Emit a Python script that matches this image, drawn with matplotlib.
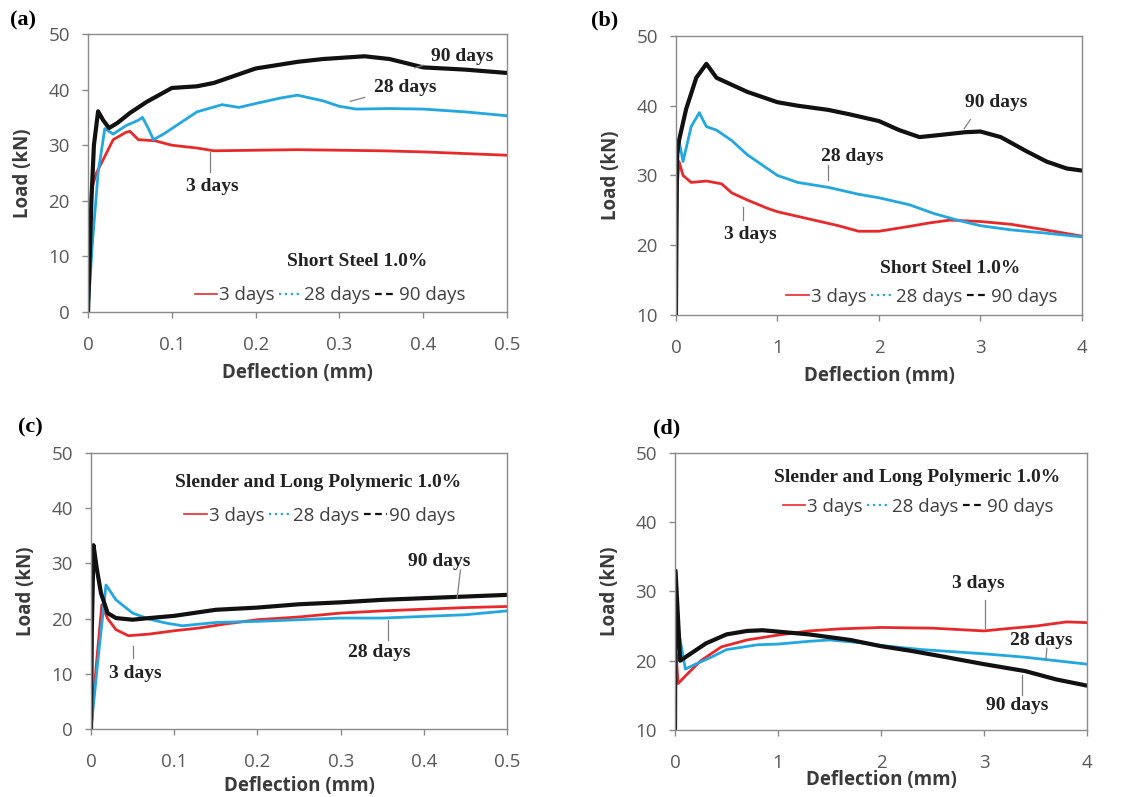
import matplotlib.pyplot as plt
from matplotlib.lines import Line2D

plt.rcParams['font.family'] = ['Open Sans', 'DejaVu Sans']

RED = '#e8292c'
BLUE = '#22a7e0'
BLACK = '#111111'
FRAME = '#8a8a8a'
TICK_GRAY = '#595959'
SERIF = 'Liberation Serif'

series_labels = ['3 days', '28 days', '90 days']

# (a) Short Steel, small deflection range
a3_x = [0, 0.002, 0.004, 0.01, 0.02, 0.03, 0.045, 0.05, 0.06, 0.08, 0.1, 0.13, 0.15,
        0.2, 0.25, 0.3, 0.35, 0.4, 0.45, 0.5]
a3_y = [0, 15, 22, 25, 28, 31, 32.3, 32.5, 31, 30.8, 30, 29.5, 29, 29.1, 29.2, 29.1,
        29, 28.8, 28.5, 28.2]
a28_x = [0, 0.005, 0.012, 0.02, 0.03, 0.045, 0.06, 0.065, 0.072, 0.078, 0.09, 0.1,
         0.13, 0.16, 0.18, 0.2, 0.23, 0.25, 0.28, 0.3, 0.32, 0.36, 0.4, 0.45, 0.5]
a28_y = [0, 12, 25, 33, 32, 33.5, 34.5, 35, 33, 31, 32, 33, 36, 37.3, 36.8, 37.5,
         38.5, 39, 38, 37, 36.5, 36.6, 36.5, 36, 35.3]
a90_x = [0, 0.002, 0.004, 0.007, 0.012, 0.018, 0.025, 0.035, 0.05, 0.07, 0.1, 0.13,
         0.15, 0.2, 0.25, 0.28, 0.33, 0.36, 0.4, 0.45, 0.5]
a90_y = [0, 10, 20, 30, 36.1, 34.5, 33.1, 34, 35.8, 37.8, 40.3, 40.6, 41.2, 43.8,
         45, 45.5, 46, 45.5, 44, 43.6, 43]

# (b) Short Steel, full deflection range
b3_x = [0, 0.01, 0.03, 0.07, 0.15, 0.3, 0.45, 0.55, 0.7, 0.9, 1.0, 1.3, 1.6, 1.8,
        2.0, 2.3, 2.5, 2.7, 3.0, 3.3, 3.6, 4.0]
b3_y = [10, 28, 32, 30, 29, 29.2, 28.8, 27.5, 26.5, 25.3, 24.8, 23.8, 22.8, 22,
        22, 22.7, 23.2, 23.6, 23.4, 23, 22.3, 21.3]
b28_x = [0, 0.01, 0.03, 0.07, 0.15, 0.23, 0.3, 0.4, 0.55, 0.7, 0.85, 1.0, 1.2, 1.5,
         1.8, 2.0, 2.3, 2.55, 2.8, 3.0, 3.3, 3.6, 4.0]
b28_y = [10, 30, 35, 32, 37, 39, 37, 36.5, 35, 33, 31.5, 30, 29, 28.3, 27.3, 26.8,
         25.8, 24.5, 23.5, 22.8, 22.2, 21.8, 21.2]
b90_x = [0, 0.01, 0.03, 0.1, 0.2, 0.3, 0.4, 0.55, 0.7, 0.9, 1.0, 1.2, 1.5, 1.7, 2.0,
         2.2, 2.4, 2.6, 2.85, 3.0, 3.2, 3.45, 3.65, 3.85, 4.0]
b90_y = [10, 33, 35, 39.5, 44, 46, 44, 43, 42, 41, 40.5, 40, 39.4, 38.8, 37.8, 36.5,
         35.5, 35.8, 36.2, 36.3, 35.5, 33.5, 32, 31, 30.7]

# (c) Slender and Long Polymeric, small deflection range
c3_x = [0, 0.006, 0.013, 0.02, 0.03, 0.045, 0.07, 0.1, 0.13, 0.16, 0.2, 0.25, 0.3,
        0.35, 0.4, 0.45, 0.5]
c3_y = [0, 11, 22.5, 20, 18, 16.9, 17.2, 17.8, 18.3, 19, 19.8, 20.3, 21, 21.4, 21.7,
        22, 22.2]
c28_x = [0, 0.008, 0.018, 0.03, 0.05, 0.07, 0.09, 0.11, 0.15, 0.2, 0.25, 0.3, 0.35,
         0.4, 0.45, 0.5]
c28_y = [0, 12, 26.1, 23.4, 21, 19.9, 19.2, 18.7, 19.3, 19.5, 19.8, 20.1, 20.1, 20.4,
         20.7, 21.4]
c90_x = [0, 0.001, 0.003, 0.007, 0.012, 0.02, 0.03, 0.05, 0.07, 0.1, 0.15, 0.2, 0.25,
         0.3, 0.35, 0.4, 0.45, 0.5]
c90_y = [0, 18, 33.3, 29, 24.6, 21, 20.1, 19.8, 20.1, 20.5, 21.6, 22, 22.6, 22.95,
         23.4, 23.7, 24, 24.3]

# (d) Slender and Long Polymeric, full deflection range
d3_x = [0, 0.01, 0.03, 0.1, 0.25, 0.45, 0.7, 1.0, 1.3, 1.6, 2.0, 2.5, 3.0, 3.2, 3.5,
        3.8, 4.0]
d3_y = [10, 21, 16.7, 17.8, 20, 22, 23, 23.7, 24.3, 24.6, 24.8, 24.7, 24.3, 24.6,
        25, 25.6, 25.5]
d28_x = [0, 0.01, 0.1, 0.2, 0.35, 0.5, 0.8, 1.0, 1.3, 1.5, 1.8, 2.0, 2.4, 3.0, 3.4,
         3.7, 4.0]
d28_y = [10, 26.4, 18.8, 19.5, 20.5, 21.6, 22.3, 22.4, 22.8, 23, 22.6, 22.2, 21.6,
         21, 20.5, 20, 19.5]
d90_x = [0, 0.005, 0.05, 0.15, 0.3, 0.5, 0.7, 0.85, 1.0, 1.3, 1.5, 1.7, 2.0, 2.3,
         2.6, 3.0, 3.4, 3.7, 4.0]
d90_y = [10, 33, 20, 21, 22.5, 23.8, 24.3, 24.4, 24.2, 23.8, 23.4, 23, 22.1, 21.4,
         20.6, 19.5, 18.5, 17.3, 16.4]

small_ticks = [0, 0.1, 0.2, 0.3, 0.4, 0.5]
small_ticklabels = ['0', '0.1', '0.2', '0.3', '0.4', '0.5']
large_ticks = [0, 1, 2, 3, 4]
large_ticklabels = ['0', '1', '2', '3', '4']

panels = [
    dict(pos=[0.0771, 0.6085, 0.3669, 0.3488], letter='(a)', letter_xy=(23, 20),
         series=[(a3_x, a3_y), (a28_x, a28_y), (a90_x, a90_y)],
         xlim=(0, 0.5), ylim=(0, 50), xticks=small_ticks, xticklabels=small_ticklabels,
         title='Short Steel 1.0%', title_xy=(0.321, 9.0), leg_xy=(0.578, 0.061),
         xlabelpad=7,
         notes=[('90 days', (0.447, 45.9), (0.39, 43.9), (0.40, 44.4)),
                ('28 days', (0.378, 40.3), (0.313, 37.9), (0.33, 38.6)),
                ('3 days', (0.148, 22.5), (0.145, 28.8), (0.145, 25.2))]),
    dict(pos=[0.5919, 0.6048, 0.3555, 0.3501], letter='(b)', letter_xy=(605, 20),
         series=[(b3_x, b3_y), (b28_x, b28_y), (b90_x, b90_y)],
         xlim=(0, 4), ylim=(10, 50), xticks=large_ticks, xticklabels=large_ticklabels,
         title='Short Steel 1.0%', title_xy=(2.70, 16.7), leg_xy=(0.606, 0.065),
         xlabelpad=7,
         notes=[('90 days', (3.16, 40.5), (2.84, 36.7), (2.90, 38.0)),
                ('28 days', (1.74, 32.7), (1.50, 29.4), (1.50, 31.5)),
                ('3 days', (0.73, 21.5), (0.66, 25.5), (0.66, 23.6))]),
    dict(pos=[0.0797, 0.0853, 0.3643, 0.3463], letter='(c)', letter_xy=(30, 427),
         series=[(c3_x, c3_y), (c28_x, c28_y), (c90_x, c90_y)],
         xlim=(0, 0.5), ylim=(0, 50), xticks=small_ticks, xticklabels=small_ticklabels,
         title='Slender and Long Polymeric 1.0%', title_xy=(0.273, 44.6),
         leg_xy=(0.55, 0.772), xlabelpad=4,
         notes=[('90 days', (0.419, 30.3), (0.44, 23.7), (0.444, 28.8)),
                ('28 days', (0.346, 13.8), (0.357, 19.7), (0.357, 16.1)),
                ('3 days', (0.053, 10.1), (0.05, 15.0), (0.05, 12.9))]),
    dict(pos=[0.5911, 0.0841, 0.3608, 0.3476], letter='(d)', letter_xy=(667, 428),
         series=[(d3_x, d3_y), (d28_x, d28_y), (d90_x, d90_y)],
         xlim=(0, 4), ylim=(10, 50), xticks=large_ticks, xticklabels=large_ticklabels,
         title='Slender and Long Polymeric 1.0%', title_xy=(2.35, 46.4),
         leg_xy=(0.59, 0.805), xlabelpad=-1,
         notes=[('3 days', (2.94, 31.2), (3.01, 24.7), (3.01, 28.8)),
                ('28 days', (3.56, 22.9), (3.60, 20.1), (3.61, 21.8)),
                ('90 days', (3.32, 13.6), (3.37, 17.9), (3.37, 15.1))]),
]

colors = [RED, BLUE, BLACK]
widths = [2.0, 2.0, 3.0]

fig = plt.figure(figsize=(11.42, 7.97), dpi=100)

for p in panels:
    ax = fig.add_axes(p['pos'])
    for (xs, ys), c, lw in zip(p['series'], colors, widths):
        ax.plot(xs, ys, color=c, lw=lw, solid_joinstyle='round')
    ax.set_xlim(*p['xlim'])
    ax.set_ylim(*p['ylim'])
    ax.set_xticks(p['xticks'])
    ax.set_xticklabels(p['xticklabels'])
    ax.set_yticks(range(p['ylim'][0], 51, 10))
    for s in ax.spines.values():
        s.set_color(FRAME)
        s.set_linewidth(1.0)
    ax.tick_params(direction='out', length=4, width=1, color=FRAME,
                   labelcolor=TICK_GRAY, labelsize=13.5)
    ax.tick_params(axis='x', pad=13)
    ax.tick_params(axis='y', pad=9)
    ax.set_xlabel('Deflection (mm)', fontsize=13.5, fontweight='bold', color='#3a3a3a',
                  labelpad=p['xlabelpad'])
    ax.set_ylabel('Load (kN)', fontsize=13.5, fontweight='bold', color='#3a3a3a',
                  labelpad=11)

    ax.text(*p['title_xy'], p['title'], family=SERIF, fontweight='bold', fontsize=14,
            ha='center', va='center', color='#222222')
    for txt, txy, l0, l1 in p['notes']:
        ax.plot([l0[0], l1[0]], [l0[1], l1[1]], color='#808080', lw=0.9)
        ax.text(*txy, txt, family=SERIF, fontweight='bold', fontsize=14,
                ha='center', va='center', color='#222222')

    handles = [Line2D([], [], color=RED, lw=1.2, ls='-'),
               Line2D([], [], color=BLUE, lw=1.6, ls=':'),
               Line2D([], [], color=BLACK, lw=1.6, ls=(0, (3, 2)))]
    ax.legend(handles, series_labels, loc='center', bbox_to_anchor=p['leg_xy'],
              ncol=3, frameon=False, fontsize=13.5, handlelength=1.2,
              handletextpad=0.1, columnspacing=0.25, labelcolor='#404040',
              borderpad=0, borderaxespad=0)

    fig.text(p['letter_xy'][0] / 1142, 1 - p['letter_xy'][1] / 797, p['letter'],
             family=SERIF, fontweight='bold', fontsize=16, ha='center', va='center')

fig.savefig('out.png', dpi=100)
